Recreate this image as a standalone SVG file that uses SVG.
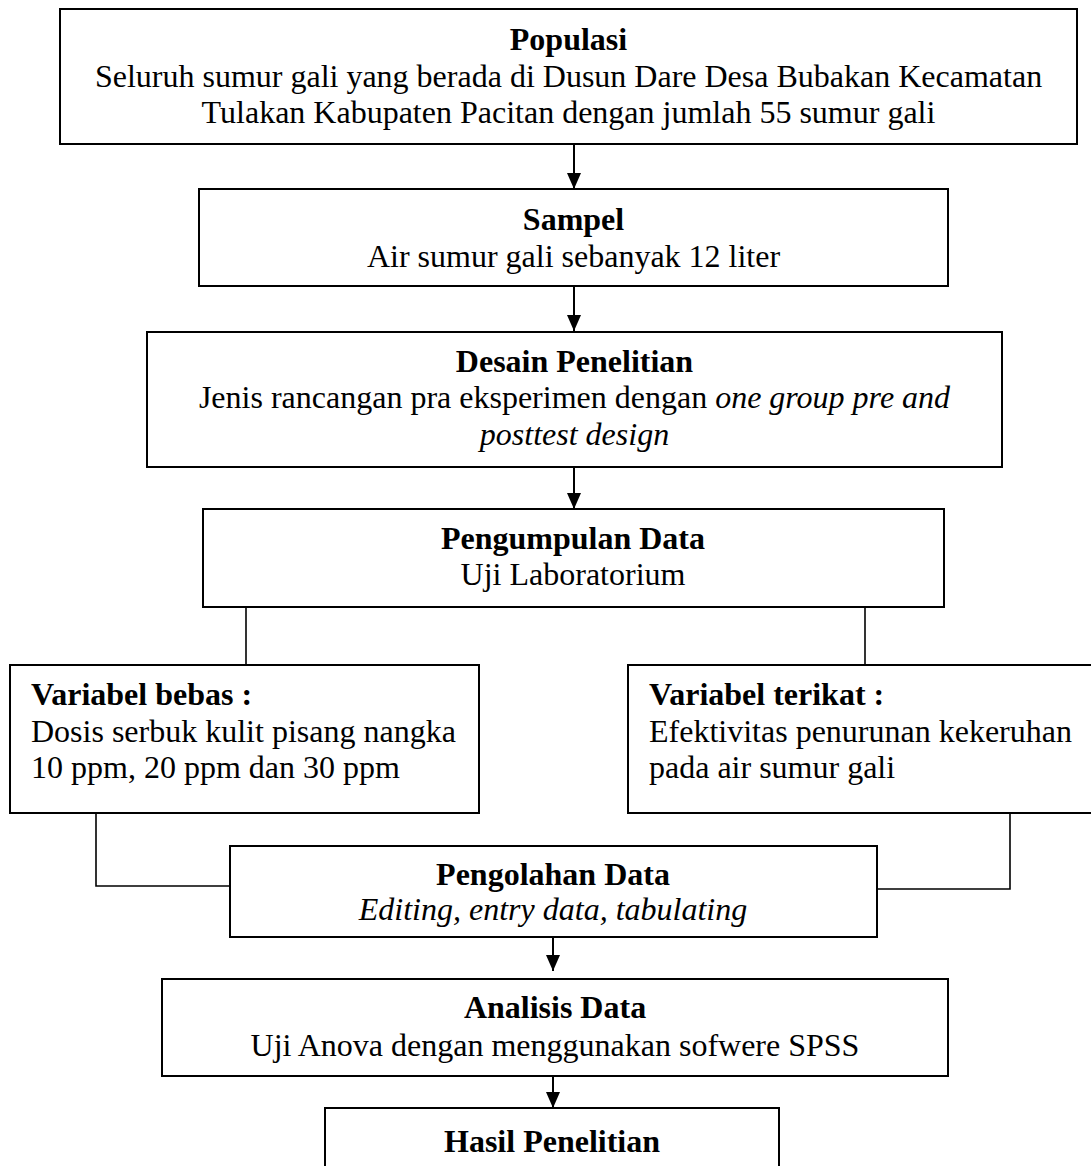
<svg xmlns="http://www.w3.org/2000/svg" width="1091" height="1166" viewBox="0 0 1091 1166">
<style>
.box{fill:#fff;stroke:#000;stroke-width:2}
.t{font-family:"Liberation Serif","Times New Roman",serif;font-size:32px;fill:#000}
.c{text-anchor:middle}
.b{font-weight:bold}
.i{font-style:italic}
.ln{fill:none;stroke:#000;stroke-width:1.6}
.ar{fill:none;stroke:#000;stroke-width:2}
</style>
<defs>
<marker id="ah" markerUnits="userSpaceOnUse" viewBox="0 0 16 14" refX="16" refY="7" markerWidth="16" markerHeight="14" orient="auto">
<path d="M0,0 L16,7 L0,14 z" fill="#000"/>
</marker>
</defs>
<rect width="1091" height="1166" fill="#fff"/>
<g id="connectors">
<line class="ar" x1="574" y1="144" x2="574" y2="189" marker-end="url(#ah)"/>
<line class="ar" x1="574" y1="286" x2="574" y2="331" marker-end="url(#ah)"/>
<line class="ar" x1="574" y1="467" x2="574" y2="509" marker-end="url(#ah)"/>
<line class="ln" x1="246" y1="607" x2="246" y2="665"/>
<line class="ln" x1="865" y1="607" x2="865" y2="665"/>
<polyline class="ln" points="96,813 96,886 230,886"/>
<polyline class="ln" points="1010,813 1010,889 877,889"/>
<line class="ar" x1="553" y1="937" x2="553" y2="971" marker-end="url(#ah)"/>
<line class="ar" x1="553" y1="1076" x2="553" y2="1108" marker-end="url(#ah)"/>
</g>
<g id="populasi">
<rect class="box" x="60" y="9" width="1017" height="135"/>
<text class="t c b" x="568.5" y="50">Populasi</text>
<text class="t c" x="568.5" y="87">Seluruh sumur gali yang berada di Dusun Dare Desa Bubakan Kecamatan</text>
<text class="t c" x="568.5" y="123">Tulakan Kabupaten Pacitan dengan jumlah 55 sumur gali</text>
</g>
<g id="sampel">
<rect class="box" x="199" y="189" width="749" height="97"/>
<text class="t c b" x="573.5" y="230">Sampel</text>
<text class="t c" x="573.5" y="267">Air sumur gali sebanyak 12 liter</text>
</g>
<g id="desain">
<rect class="box" x="147" y="332" width="855" height="135"/>
<text class="t c b" x="574.5" y="372">Desain Penelitian</text>
<text class="t c" x="574.5" y="408">Jenis rancangan pra eksperimen dengan <tspan class="i">one group pre and</tspan></text>
<text class="t c i" x="574.5" y="445">posttest design</text>
</g>
<g id="pengumpulan">
<rect class="box" x="203" y="509" width="741" height="98"/>
<text class="t c b" x="573" y="549">Pengumpulan Data</text>
<text class="t c" x="573" y="585">Uji Laboratorium</text>
</g>
<g id="variabel-bebas">
<rect class="box" x="10" y="665" width="469" height="148"/>
<text class="t b" x="31" y="705">Variabel bebas :</text>
<text class="t" x="31" y="742">Dosis serbuk kulit pisang nangka</text>
<text class="t" x="31" y="778">10 ppm, 20 ppm dan 30 ppm</text>
</g>
<g id="variabel-terikat">
<rect class="box" x="628" y="665" width="470" height="148"/>
<text class="t b" x="649" y="705">Variabel terikat :</text>
<text class="t" x="649" y="742">Efektivitas penurunan kekeruhan</text>
<text class="t" x="649" y="778">pada air sumur gali</text>
</g>
<g id="pengolahan">
<rect class="box" x="230" y="846" width="647" height="91"/>
<text class="t c b" x="553" y="885">Pengolahan Data</text>
<text class="t c i" x="553" y="920">Editing, entry data, tabulating</text>
</g>
<g id="analisis">
<rect class="box" x="162" y="979" width="786" height="97"/>
<text class="t c b" x="555" y="1018">Analisis Data</text>
<text class="t c" x="555" y="1056">Uji Anova dengan menggunakan sofwere SPSS</text>
</g>
<g id="hasil">
<rect class="box" x="325" y="1108" width="454" height="80"/>
<text class="t c b" x="552" y="1152">Hasil Penelitian</text>
</g>
</svg>
